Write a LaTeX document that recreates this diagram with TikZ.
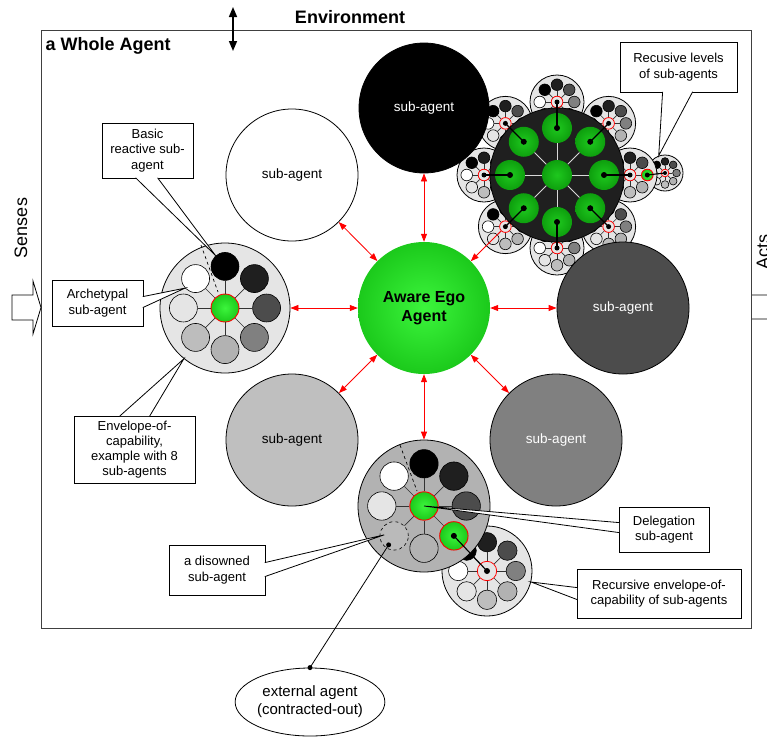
\documentclass[tikz,border=0pt]{standalone}
\usepackage{fontspec}
\setmainfont{Liberation Sans}
\usetikzlibrary{shapes.geometric,arrows.meta}

\definecolor{egoin}{RGB}{60,245,60}
\definecolor{egoout}{RGB}{0,165,0}
\definecolor{corein}{RGB}{30,200,30}
\definecolor{coreout}{RGB}{0,125,0}
\pgfdeclareradialshading{greenball}{\pgfpoint{0bp}{0bp}}{color(0bp)=(egoin); color(46bp)=(egoout); color(50bp)=(egoout)}
\pgfdeclareradialshading{darkball}{\pgfpoint{0bp}{0bp}}{color(0bp)=(corein); color(46bp)=(coreout); color(50bp)=(coreout)}

% envelope of capability: name, x, y, radius, fill, centre, ring (top, then clockwise)
\newcommand{\capenv}[7]{%
  \node[env,fill=#5,minimum size={2*#4}] (#1) at (#2,#3) {};
  \node[#6,minimum size={0.43*#4}] (#1-c) at (#2,#3) {};
  \foreach \s [count=\i] in {#7} {
    \pgfmathsetmacro\ex{#2+0.64*#4*cos(135-45*\i)}
    \pgfmathsetmacro\ey{#3-0.64*#4*sin(135-45*\i)}
    \node[ring,\s,minimum size={0.43*#4}] (#1-\i) at (\ex,\ey) {};
    \draw[spoke] (#1-c) -- (#1-\i);
  }%
}

\begin{document}
\begin{tikzpicture}[x=1pt,y=-1pt,
  big/.style={circle,draw,line width=0.8pt,minimum size=132pt,inner sep=0pt,font=\fontsize{13.5}{15}\selectfont},
  env/.style={circle,draw,line width=0.8pt,inner sep=0pt},
  ring/.style={circle,draw,line width=0.6pt,inner sep=0pt},
  spoke/.style={black!80,line width=0.7pt},
  wspoke/.style={white!85!black,line width=1pt},
  c0/.style={fill=black}, c1/.style={fill=black!88}, c2/.style={fill=black!70},
  c3/.style={fill=black!50}, c4/.style={fill=black!30}, c5/.style={fill=black!26},
  c6/.style={fill=black!10}, c7/.style={fill=white},
  gball/.style={circle,shading=darkball,inner sep=0pt},
  core/.style={circle,shading=greenball,draw=red,line width=0.9pt,inner sep=0pt},
  deleg/.style={shading=greenball,draw=red,line width=0.9pt},
  disown/.style={fill=black!27,dashed},
  hub/.style={circle,draw=red,line width=0.8pt,fill=black!10,inner sep=0pt},
  callout/.style={draw,fill=white,line width=0.8pt,align=center,inner sep=0pt,font=\fontsize{13}{15.5}\selectfont},
  wedge/.style={draw,fill=white,line width=0.8pt},
  link/.style={line width=1.1pt},
  rarrow/.style={red,line width=0.8pt,{Triangle[width=6pt,length=8pt]}-{Triangle[width=6pt,length=8pt]}},
  rhead/.style={red,line width=0.8pt,-{Triangle[width=6pt,length=8pt]}}]
\useasboundingbox (0,0) rectangle (767,736);

% Environment
\node[draw=black!75,line width=0.8pt,minimum width=710pt,minimum height=598pt] (whole) at (396,329) {};
\node[anchor=west,font=\bfseries\fontsize{18}{20}\selectfont] (title) at (42,46) {a Whole Agent};
\node[font=\bfseries\fontsize{18}{20}\selectfont] (envlbl) at (350,17) {Environment};
\coordinate (envout) at (233,7);
\coordinate (envin) at (233,51);
\draw[line width=1.6pt,{Triangle[width=8pt,length=10pt]}-{Triangle[width=8pt,length=10pt]}] (envout) -- (envin);

% Senses and Acts
\node[rotate=90,font=\fontsize{18}{20}\selectfont] (senses) at (21,228) {Senses};
\draw[line width=0.8pt,fill=white] (12,295) -- (33,295) -- (33,281) -- (41,307.5) -- (33,334) -- (33,320) -- (12,320) -- cycle;
\node[rotate=90,font=\fontsize{18}{20}\selectfont] (acts) at (763,252) {Acts};
\draw[line width=0.8pt] (752,295) -- (775,295) -- (775,283) -- (795,307) -- (775,331) -- (775,319) -- (752,319);

% Recursive levels (behind the dark core)
\capenv{t}{665}{173}{18}{black!10}{hub}{c1,c2,c3,c4,c5,c6,c7,c0}
\capenv{s3}{630}{175}{27}{black!10}{hub}{c1,c2,deleg,c4,c5,c6,c7,c0}
\foreach \k in {1,2,4,5,6,7,8} {
  \pgfmathsetmacro\cx{557+73*cos(135-45*\k)}
  \pgfmathsetmacro\cy{175-73*sin(135-45*\k)}
  \capenv{s\k}{\cx}{\cy}{27}{black!10}{hub}{c1,c2,c3,c4,c5,c6,c7,c0}
}

% Dark core
\node[circle,fill=black!88,draw,line width=0.8pt,minimum size=134pt] (cl) at (557,175) {};
\node[gball,minimum size=30pt] (g0) at (557,175) {};
\foreach \k in {1,...,8} {
  \pgfmathsetmacro\cx{557+47*cos(135-45*\k)}
  \pgfmathsetmacro\cy{175-47*sin(135-45*\k)}
  \node[gball,minimum size=30pt] (g\k) at (\cx,\cy) {};
  \draw[wspoke] (g0) -- (g\k);
  \draw[link] (g\k.center) -- (s\k-c.center);
  \fill (g\k) circle[radius=3];
  \fill (s\k-c) circle[radius=2.5];
}
\draw[link] (s3-3.center) -- (t-c.center);
\fill (s3-3) circle[radius=2.5];
\fill (t-c) circle[radius=2];

% Sub-agents
\node[big,fill=black,text=white,minimum size=130pt] (blk) at (424,108) {sub-agent};
\node[big,fill=white] (wht) at (292,175) {sub-agent};
\node[big,fill=black!70,text=white] (dgr) at (623,308) {sub-agent};
\node[big,fill=black!25] (lgr) at (292,440) {sub-agent};
\node[big,fill=black!50,text=white] (mgr) at (556,440) {sub-agent};

% Aware ego
\node[circle,shading=greenball,minimum size=132pt,inner sep=0pt,align=center,font=\bfseries\fontsize{16}{19.5}\selectfont] (ego) at (424,308) {Aware Ego\\Agent};

% Envelope of capability
\capenv{envL}{225}{308}{65}{black!10}{core}{c0,c1,c2,c3,c4,c5,c6,c7}
\draw[dashed,line width=0.7pt] ([shift={(-24,-63)}]envL.center) -- ([shift={(-7,-16)}]envL.center);

% Delegation
\capenv{envR}{487}{571}{45}{black!10}{hub}{c1,c2,c3,c4,c5,c6,c7,c0}
\capenv{envB}{424}{506}{66}{black!30}{core}{c0,c1,c2,deleg,c4,disown,c6,c7}
\draw[dashed,line width=0.7pt] ([shift={(-24,-61)}]envB.center) -- ([shift={(-7,-15)}]envB.center);
\draw[link] (envB-4.center) -- (envR-c.center);
\fill (envB-4) circle[radius=3];
\fill (envR-c) circle[radius=3];

% Red arrows
\draw[rarrow] (blk) -- (ego);
\draw[rarrow] (wht) -- (ego);
\draw[rarrow] (envL) -- (ego);
\draw[rarrow] (ego) -- (dgr);
\draw[rarrow] (lgr) -- (ego);
\draw[rarrow] (ego) -- (mgr);
\draw[rarrow] (ego) -- (envB);
\draw[rhead] (s6-c) -- (ego);

% External agent
\node[ellipse,draw,line width=0.8pt,minimum width=136pt,minimum height=68pt,inner sep=0pt,align=center,font=\fontsize{15}{18}\selectfont] (ext) at (310,702) {external agent\\(contracted-out)};
\coordinate (xdot) at ([shift={(-5.5,9)}]envB-6.center);
\draw[line width=0.8pt] (ext.north) -- (xdot);
\fill (ext.north) circle[radius=2.5];
\fill (xdot) circle[radius=2.5];

% Callouts
\node[callout,minimum width=91pt,minimum height=55pt] (basic) at (147.5,150.5) {Basic\\reactive sub-\\agent};
\coordinate (basictip) at (envL-1.131);
\filldraw[wedge] ([xshift=34pt,yshift=0.6pt]basic.south west) -- (basictip) -- ([xshift=56pt,yshift=0.6pt]basic.south west);

\node[callout,minimum width=91pt,minimum height=46pt] (arch) at (97.5,303) {Archetypal\\sub-agent};
\coordinate (archtip) at (envL-8.222);
\filldraw[wedge] ([xshift=-0.6pt,yshift=-17pt]arch.north east) -- (archtip) -- ([xshift=-0.6pt,yshift=-28pt]arch.north east);

\node[callout,minimum width=121pt,minimum height=67pt,font=\fontsize{13}{15}\selectfont] (envbox) at (134.5,449.5) {Envelope-of-\\capability,\\example with 8\\sub-agents};
\coordinate (envtip) at (envL.231);
\filldraw[wedge] ([xshift=46pt,yshift=-0.6pt]envbox.north west) -- (envtip) -- ([xshift=76pt,yshift=-0.6pt]envbox.north west);

\node[callout,minimum width=117pt,minimum height=50pt] (levels) at (678.5,67) {Recusive levels\\of sub-agents};
\coordinate (levtip) at (t.110);
\filldraw[wedge] ([xshift=43pt,yshift=0.6pt]levels.south west) -- (levtip) -- ([xshift=73pt,yshift=0.6pt]levels.south west);

\node[callout,minimum width=90pt,minimum height=45pt] (delbox) at (664,529.5) {Delegation\\sub-agent};
\coordinate (deltip) at (envB-c.center);
\filldraw[wedge] ([xshift=0.6pt,yshift=-16pt]delbox.north west) -- (deltip) -- ([xshift=0.6pt,yshift=-26pt]delbox.north west);

\node[callout,minimum width=164pt,minimum height=49pt] (recbox) at (659,593.5) {Recursive envelope-of-\\capability of sub-agents};
\coordinate (rectip) at (envR.-14);
\filldraw[wedge] ([xshift=0.6pt,yshift=-19pt]recbox.north west) -- (rectip) -- ([xshift=0.6pt,yshift=-31pt]recbox.north west);

\node[callout,minimum width=96pt,minimum height=50pt] (disbox) at (217,570) {a disowned\\sub-agent};
\coordinate (distip) at ([shift={(-10,-1)}]envB-6.center);
\filldraw[wedge] ([xshift=-0.6pt,yshift=-18pt]disbox.north east) -- (distip) -- ([xshift=-0.6pt,yshift=-32pt]disbox.north east);
\end{tikzpicture}
\end{document}
